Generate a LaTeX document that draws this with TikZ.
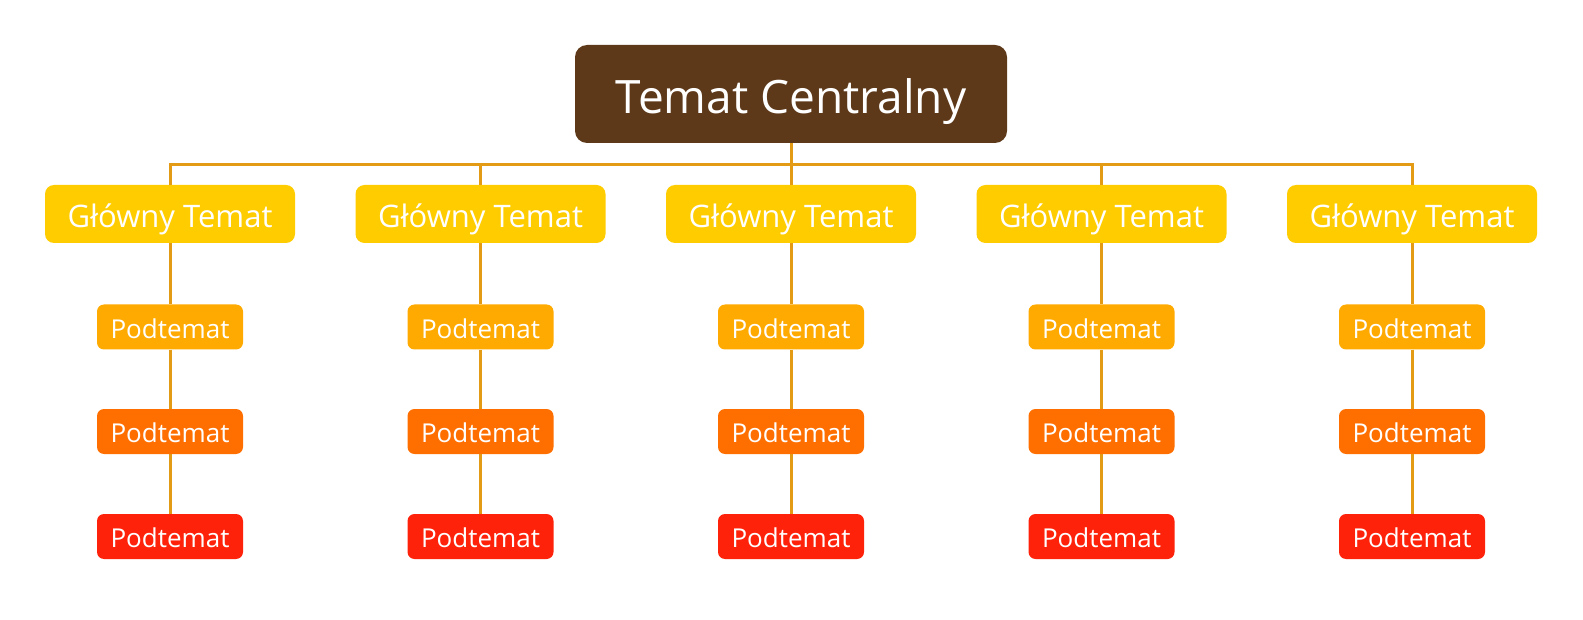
\documentclass[tikz,border=0pt]{standalone}
\usepackage{fontspec}
\setmainfont{Open Sans}
\usepackage{tikz}
\usetikzlibrary{positioning}

\definecolor{centralbrown}{HTML}{5D3819}
\definecolor{mainyellow}{HTML}{FFCC00}
\definecolor{subamber}{HTML}{FFAA00}
\definecolor{suborange}{HTML}{FF6F00}
\definecolor{subred}{HTML}{FF220B}
\definecolor{linkgold}{HTML}{E39A14}

\begin{document}
\begin{tikzpicture}[
  x=1pt, y=1pt,
  box/.style={rounded corners=9pt, inner sep=0pt, text=white, align=center, text depth=0pt},
  central/.style={box, fill=centralbrown, rounded corners=12pt, minimum width=432pt, minimum height=98pt, text height=39pt, font=\fontsize{46}{55}\selectfont},
  maintopic/.style={box, fill=mainyellow, minimum width=250pt, minimum height=58pt, text height=27pt, font=\fontsize{31}{37}\selectfont},
  subtopic/.style={box, rounded corners=7pt, minimum width=146pt, minimum height=45pt, text height=22.5pt, font=\fontsize{26}{31}\selectfont},
  suba/.style={subtopic, fill=subamber},
  subb/.style={subtopic, fill=suborange},
  subc/.style={subtopic, fill=subred},
  link/.style={draw=linkgold, line width=3pt}
]
\useasboundingbox (0,0) rectangle (1583,-620);

\node[central] (c) at (791,-94) {Temat Centralny};

\foreach \i in {0,...,4} {
  \pgfmathsetmacro\colx{170+310.5*\i}
  \node[maintopic] (m\i) at (\colx,-214) {Główny Temat};
  \node[suba] (s\i a) at (\colx,-327) {Podtemat};
  \node[subb] (s\i b) at (\colx,-431.5) {Podtemat};
  \node[subc] (s\i c) at (\colx,-536.5) {Podtemat};

  \draw[link] (c.south) -- ++(0,-21) -| (m\i.north);
  \draw[link] (m\i) -- (s\i a) -- (s\i b) -- (s\i c);
}
\end{tikzpicture}
\end{document}
